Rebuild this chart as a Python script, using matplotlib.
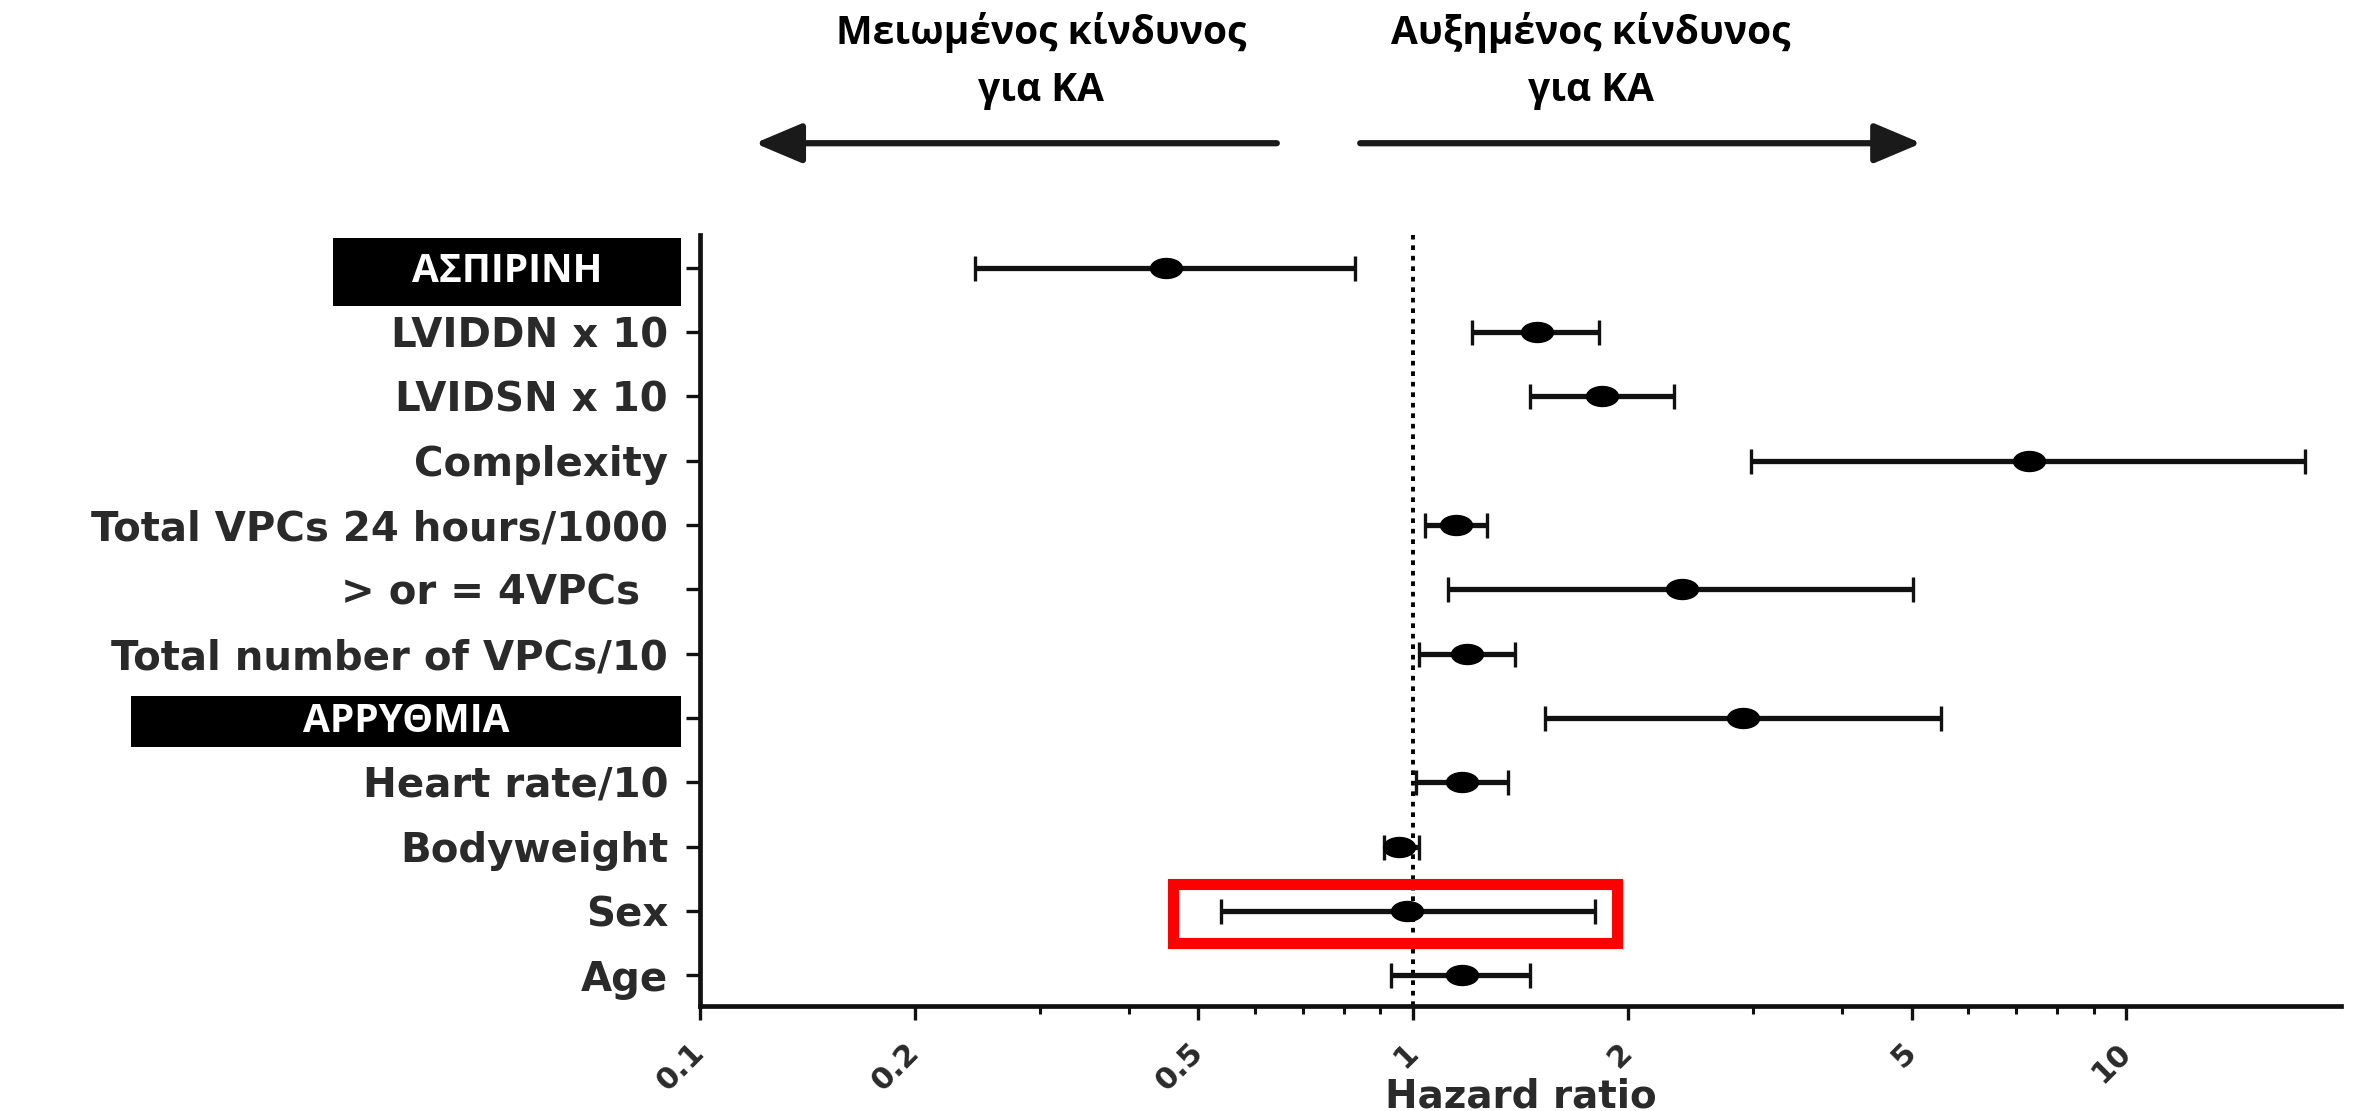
import numpy as np
import matplotlib
matplotlib.use("Agg")
from matplotlib import pyplot as plt
from matplotlib.path import Path
from matplotlib.patches import Rectangle
from matplotlib.transforms import Affine2D, blended_transform_factory
from matplotlib.ticker import FixedLocator, NullFormatter

# rows from top to bottom
labels = ['ΑΣΠΙΡΙΝΗ', 'LVIDDN x 10', 'LVIDSN x 10', 'Complexity',
          'Total VPCs 24 hours/1000', '> or = 4VPCs  ', 'Total number of VPCs/10',
          'ΑΡΡΥΘΜΙΑ', 'Heart rate/10', 'Bodyweight', 'Sex', 'Age']
hr = [0.45, 1.49, 1.84, 7.3, 1.15, 2.38, 1.19, 2.90, 1.17, 0.955, 0.98, 1.17]
lo = [0.243, 1.21, 1.46, 2.98, 1.04, 1.12, 1.02, 1.53, 1.01, 0.91, 0.537, 0.93]
hi = [0.83, 1.82, 2.32, 17.8, 1.27, 5.03, 1.39, 5.49, 1.36, 1.02, 1.80, 1.46]
boxed = ['ΑΣΠΙΡΙΝΗ', 'ΑΡΡΥΘΜΙΑ']
highlight = 'Sex'

major_ticks = [0.1, 0.2, 0.5, 1, 2, 5, 10]
major_labels = ['0.1', '0.2', '0.5', '1', '2', '5', '10']
minor_ticks = [0.3, 0.4, 0.6, 0.7, 0.8, 0.9, 3, 4, 6, 7, 8, 9]

left_text = 'Μειωμένος κίνδυνος\nγια ΚΑ'
right_text = 'Αυξημένος κίνδυνος\nγια ΚΑ'

ink = '#111111'
txt = '#2a2a2a'

fig = plt.figure(figsize=(23.56, 11.11), dpi=100)
ax = fig.add_axes([0.2971, 0.0945, 0.6965, 0.694])

n = len(labels)
y = np.arange(n, 0, -1)
hr = np.array(hr)
lo = np.array(lo)
hi = np.array(hi)

ax.errorbar(hr, y, xerr=[hr - lo, hi - hr], fmt='none', ecolor=ink,
            elinewidth=3.8, capsize=9, capthick=2.4, zorder=3)
ell = Path.unit_circle().transformed(Affine2D().scale(1.6, 1.0))
ax.plot(hr, y, ls='none', marker=ell, ms=23, color='black', zorder=4)
ax.axvline(1, color='black', lw=2.8, ls=(0, (1.2, 1.5)), zorder=2)

ax.set_xscale('log')
ax.set_xlim(0.1, 20)
ax.set_ylim(0.52, 12.51)

ax.xaxis.set_major_locator(FixedLocator(major_ticks))
ax.set_xticklabels(major_labels)
ax.xaxis.set_minor_locator(FixedLocator(minor_ticks))
ax.xaxis.set_minor_formatter(NullFormatter())
for t in ax.get_xticklabels():
    t.set_rotation(45)
    t.set_ha('right')
    t.set_va('center')
    t.set_rotation_mode('anchor')
    t.set_fontfamily('DejaVu Sans')
    t.set_fontweight('bold')
    t.set_fontsize(22)
    t.set_color(txt)

ax.set_yticks(y)
ax.set_yticklabels(['' if l in boxed else l for l in labels],
                   fontfamily='DejaVu Sans', fontweight='bold', fontsize=29, color=txt)

ax.tick_params(axis='x', which='major', length=10, width=2.4, pad=20, color=ink)
ax.tick_params(axis='x', which='minor', length=6, width=2.2, color=ink)
ax.tick_params(axis='y', length=10, width=2.4, pad=13, color=ink)
for s in ['top', 'right']:
    ax.spines[s].set_visible(False)
for s in ['left', 'bottom']:
    ax.spines[s].set_linewidth(3.4)
    ax.spines[s].set_color(ink)

ax.set_xlabel('Hazard ratio', fontfamily='DejaVu Sans', fontweight='bold',
              fontsize=28, color=txt)
ax.xaxis.set_label_coords(0.5, -0.131)
ax.xaxis.label.set_va('baseline')

# black boxes with white Greek group labels
bt = blended_transform_factory(fig.transFigure, ax.transData)
box_geom = {'ΑΣΠΙΡΙΝΗ': (333, 11.41, 12.47), 'ΑΡΡΥΘΜΙΑ': (131, 4.55, 5.34)}
for name in boxed:
    x0, yb, yt = box_geom[name]
    xf0 = x0 / 2356.0
    xf1 = 681 / 2356.0
    ax.add_patch(Rectangle((xf0, yb), xf1 - xf0, yt - yb, transform=bt,
                           facecolor='black', edgecolor='none', clip_on=False, zorder=5))
    ax.text((xf0 + xf1) / 2, (yb + yt) / 2, name, transform=bt, ha='center', va='center',
            color='white', fontfamily='Open Sans', fontweight='bold', fontsize=28,
            clip_on=False, zorder=6)

# red highlight box around Sex row
yi = y[labels.index(highlight)]
ax.add_patch(Rectangle((0.46, yi - 0.5), 1.93 - 0.46, 0.92, facecolor='none',
                       edgecolor='#ff0000', lw=8, zorder=7))

# direction arrows and captions
xt = ax.get_xaxis_transform()
ap = dict(arrowstyle='-|>,head_length=0.9,head_width=0.38', lw=4.5, color='#1a1a1a',
          mutation_scale=32, shrinkA=0, shrinkB=0)
ax.annotate('', xy=(0.1194, 1.119), xytext=(0.644, 1.119), xycoords=xt,
            textcoords=xt, arrowprops=ap, annotation_clip=False)
ax.annotate('', xy=(5.16, 1.119), xytext=(0.843, 1.119), xycoords=xt,
            textcoords=xt, arrowprops=ap, annotation_clip=False)

for xc, s in [(1041, left_text), (1591, right_text)]:
    l1, l2 = s.split('\n')
    fig.text(xc / 2356.0, 1 - 44 / 1111.0, l1, ha='center', va='baseline',
             fontfamily='Open Sans', fontweight='bold', fontsize=28, color='black')
    fig.text(xc / 2356.0, 1 - 101 / 1111.0, l2, ha='center', va='baseline',
             fontfamily='Open Sans', fontweight='bold', fontsize=28, color='black')

fig.savefig('out.png', dpi=100)
